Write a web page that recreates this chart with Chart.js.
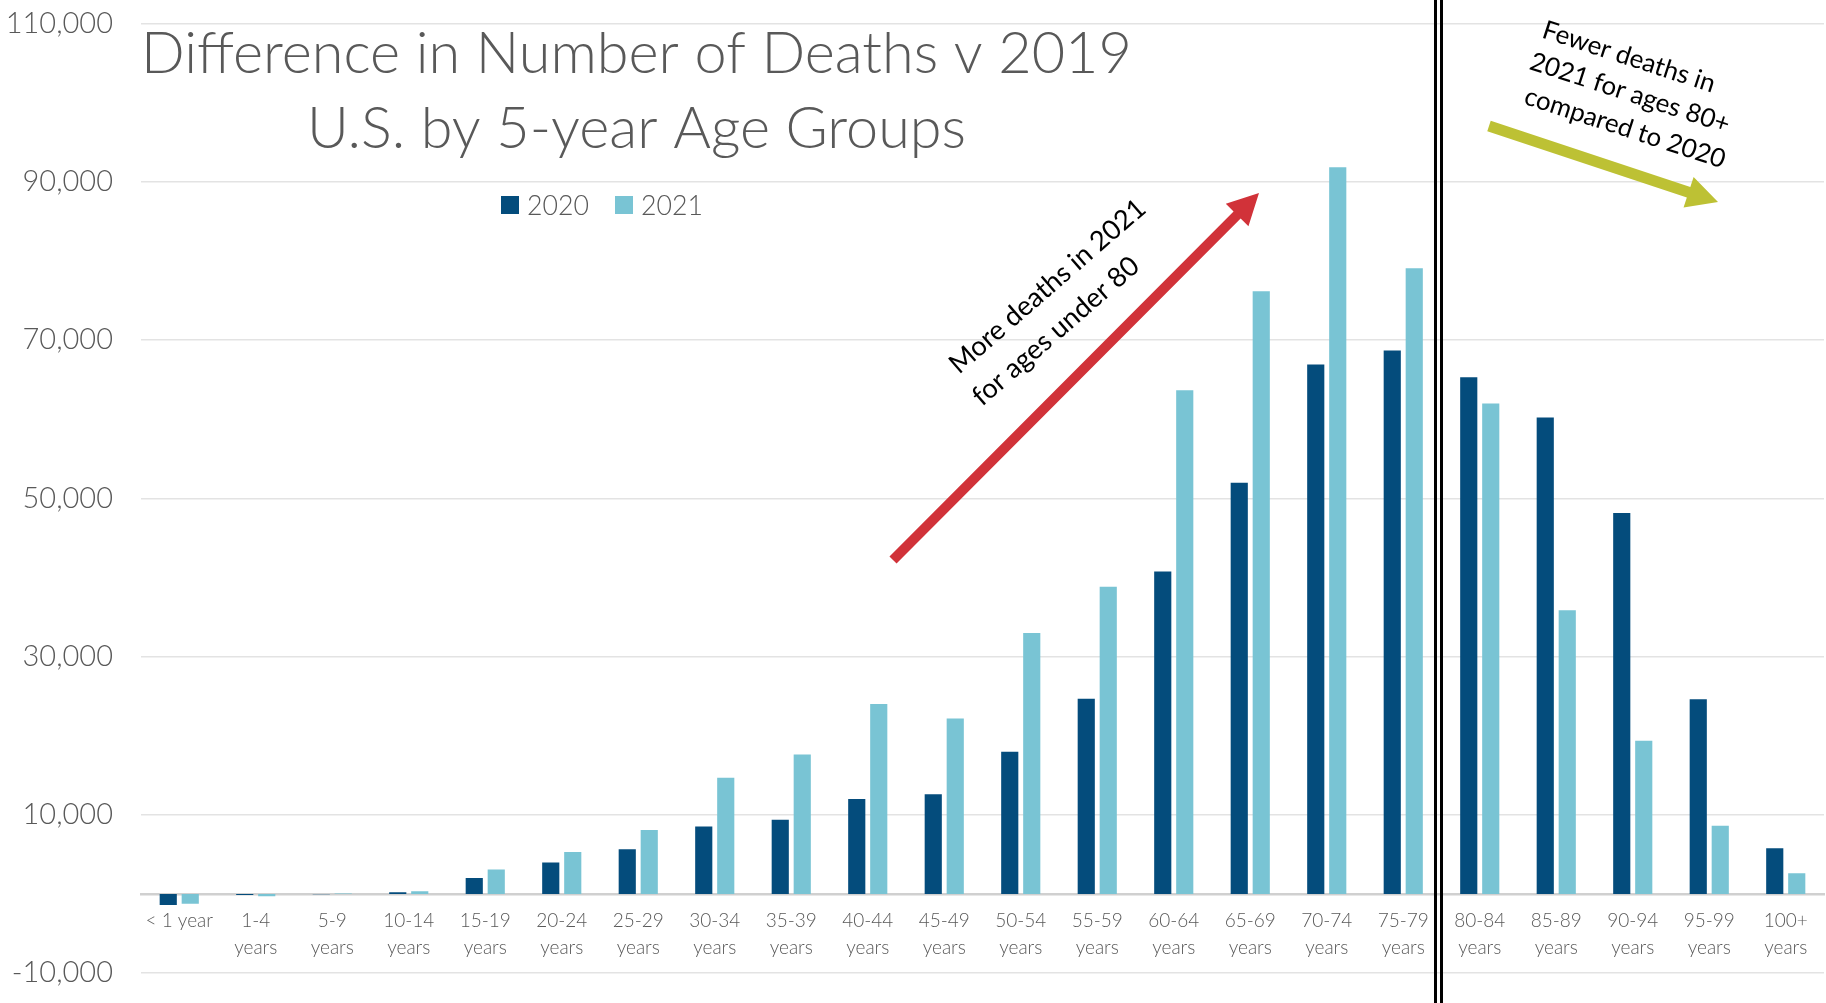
<!DOCTYPE html>
<html>
<head>
<meta charset="utf-8">
<script src="https://cdn.jsdelivr.net/npm/chart.js@4.4.1/dist/chart.umd.min.js"></script>
<style>
  html, body { margin: 0; padding: 0; background: #ffffff; }
  #wrap { width: 1826px; height: 1003px; position: relative; }
  canvas { display: block; }
</style>
</head>
<body>
<div id="wrap"><canvas id="c" width="1826" height="1003"></canvas></div>
<script>
// ---------- data ----------
const categories = ['< 1 year', '1-4 years', '5-9 years', '10-14 years', '15-19 years', '20-24 years',
  '25-29 years', '30-34 years', '35-39 years', '40-44 years', '45-49 years', '50-54 years',
  '55-59 years', '60-64 years', '65-69 years', '70-74 years', '75-79 years', '80-84 years',
  '85-89 years', '90-94 years', '95-99 years', '100+ years'];
const seriesNames = ['2020', '2021'];
const values2020 = [-1400, -150, -50, 200, 2000, 3950, 5630, 8500, 9380, 12000, 12580, 17970,
  24670, 40750, 51950, 66910, 68680, 65300, 60210, 48150, 24610, 5760];
const values2021 = [-1250, -300, 40, 330, 3080, 5300, 8080, 14690, 17600, 24000, 22180, 32970,
  38800, 63660, 76170, 91830, 79070, 61980, 35840, 19360, 8610, 2610];
const yTicks = [-10000, 10000, 30000, 50000, 70000, 90000, 110000];
const titleLines = ['Difference in Number of Deaths v 2019', 'U.S. by 5-year Age Groups'];
const redNote = ['More deaths in 2021', 'for ages under 80'];
const greenNote = ['Fewer deaths in', '2021 for ages 80+', 'compared to 2020'];

const COLORS = { s2020: '#044C7C', s2021: '#79C4D4', text: '#595959', red: '#D13239', green: '#BDC134' };
const FAMILY = 'Lato, "Open Sans", sans-serif';

function fitSize(ctx, text, target, weight) {
  ctx.font = weight + ' 40px ' + FAMILY;
  const w = ctx.measureText(text).width;
  return 40 * target / w;
}

function drawArrow(ctx, x1, y1, x2, y2, shaftW, headL, headW, color) {
  const dx = x2 - x1, dy = y2 - y1;
  const len = Math.hypot(dx, dy);
  const ux = dx / len, uy = dy / len;
  const px = -uy, py = ux;
  const bx = x2 - ux * headL, by = y2 - uy * headL;
  ctx.save();
  ctx.fillStyle = color;
  ctx.beginPath();
  ctx.moveTo(x1 + px * shaftW / 2, y1 + py * shaftW / 2);
  ctx.lineTo(bx + px * shaftW / 2, by + py * shaftW / 2);
  ctx.lineTo(bx + px * headW / 2, by + py * headW / 2);
  ctx.lineTo(x2, y2);
  ctx.lineTo(bx - px * headW / 2, by - py * headW / 2);
  ctx.lineTo(bx - px * shaftW / 2, by - py * shaftW / 2);
  ctx.lineTo(x1 - px * shaftW / 2, y1 - py * shaftW / 2);
  ctx.closePath();
  ctx.fill();
  ctx.restore();
}

const overlay = {
  id: 'overlay',
  afterDraw(chart) {
    const ctx = chart.ctx;
    const xs = chart.scales.x;
    const H = chart.height;

    // double vertical separator between 75-79 and 80-84
    const boundary = (xs.getPixelForValue(16) + xs.getPixelForValue(17)) / 2 - 3;
    ctx.save();
    ctx.strokeStyle = '#000000';
    ctx.lineWidth = 3;
    [boundary - 3, boundary + 3].forEach(x => {
      ctx.beginPath();
      ctx.moveTo(x, 0);
      ctx.lineTo(x, H);
      ctx.stroke();
    });
    ctx.restore();

    // title
    ctx.save();
    ctx.fillStyle = COLORS.text;
    ctx.textAlign = 'center';
    ctx.textBaseline = 'alphabetic';
    const tSize = fitSize(ctx, titleLines[0], 991, 300);
    ctx.font = '300 ' + tSize + 'px ' + FAMILY;
    ctx.fillText(titleLines[0], 636.5, 73);
    ctx.fillText(titleLines[1], 636.5, 148);
    ctx.restore();

    // legend
    ctx.save();
    const lSize = fitSize(ctx, seriesNames[0], 62, 300);
    ctx.font = '300 ' + lSize + 'px ' + FAMILY;
    ctx.textBaseline = 'middle';
    ctx.textAlign = 'left';
    const legendX = [501, 615];
    chart.data.datasets.forEach((ds, i) => {
      ctx.fillStyle = ds.backgroundColor;
      ctx.fillRect(legendX[i], 196, 18, 18);
      ctx.fillStyle = COLORS.text;
      ctx.fillText(ds.label, legendX[i] + 26, 206);
    });
    ctx.restore();

    // red arrow + note
    drawArrow(ctx, 893, 560, 1259, 193, 10, 31, 32, COLORS.red);
    ctx.save();
    ctx.fillStyle = '#000000';
    const rSize = fitSize(ctx, redNote[0], 250, 400);
    ctx.font = '400 ' + rSize + 'px ' + FAMILY;
    ctx.textAlign = 'left';
    ctx.textBaseline = 'alphabetic';
    const rAng = -41 * Math.PI / 180;
    [[959, 375], [982, 407]].forEach((p, i) => {
      ctx.save();
      ctx.translate(p[0], p[1]);
      ctx.rotate(rAng);
      ctx.fillText(redNote[i], 0, 0);
      ctx.restore();
    });
    ctx.restore();

    // green arrow + note
    drawArrow(ctx, 1489, 126, 1718, 202, 11, 31, 32, COLORS.green);
    ctx.save();
    ctx.fillStyle = '#000000';
    const gSize = fitSize(ctx, greenNote[0], 180, 400);
    ctx.font = '400 ' + gSize + 'px ' + FAMILY;
    ctx.textAlign = 'center';
    ctx.textBaseline = 'middle';
    const gAng = 18 * Math.PI / 180;
    [[1629, 57], [1630, 93], [1625, 128]].forEach((p, i) => {
      ctx.save();
      ctx.translate(p[0], p[1]);
      ctx.rotate(gAng);
      ctx.fillText(greenNote[i], 0, 0);
      ctx.restore();
    });
    ctx.restore();
  }
};

function build() {
  Chart.defaults.font.family = FAMILY;
  new Chart(document.getElementById('c'), {
    type: 'bar',
    data: {
      labels: categories.map(c => c === '< 1 year' ? c : c.split(' ')),
      datasets: [
        { label: seriesNames[0], data: values2020, backgroundColor: COLORS.s2020,
          categoryPercentage: 0.575, barPercentage: 0.78, borderWidth: 0 },
        { label: seriesNames[1], data: values2021, backgroundColor: COLORS.s2021,
          categoryPercentage: 0.575, barPercentage: 0.78, borderWidth: 0 }
      ]
    },
    options: {
      responsive: false,
      animation: false,
      devicePixelRatio: 1,
      layout: { padding: { top: 23.5, right: 2, bottom: 30, left: 0 } },
      plugins: { legend: { display: false }, tooltip: { enabled: false }, title: { display: false } },
      scales: {
        x: {
          position: { y: 0 },
          grid: { display: true, color: 'rgba(0,0,0,0)', drawTicks: false },
          border: { display: true, color: '#D0D0D0', width: 2.5 },
          ticks: { color: COLORS.text, font: { size: 19, weight: 300, lineHeight: 1.4 },
                   padding: 14, maxRotation: 0, minRotation: 0, autoSkip: false },
          afterFit: s => { s.paddingLeft = 0; s.paddingRight = 0; }
        },
        y: {
          min: -10000, max: 110000,
          afterBuildTicks: s => { s.ticks = yTicks.map(v => ({ value: v })); },
          grid: { color: '#E3E3E3', lineWidth: 1.5, drawTicks: false },
          border: { display: false },
          ticks: { color: COLORS.text, font: { size: 29, weight: 300 }, padding: 28,
                   callback: v => Number(v).toLocaleString('en-US') },
          afterFit: s => { s.width = 141; s.paddingTop = 0; s.paddingBottom = 0; }
        }
      }
    },
    plugins: [overlay]
  });
}

if (document.fonts && document.fonts.load) {
  Promise.all([
    document.fonts.load('300 20px Lato'),
    document.fonts.load('400 20px Lato')
  ]).then(build, build);
} else {
  build();
}
</script>
</body>
</html>
